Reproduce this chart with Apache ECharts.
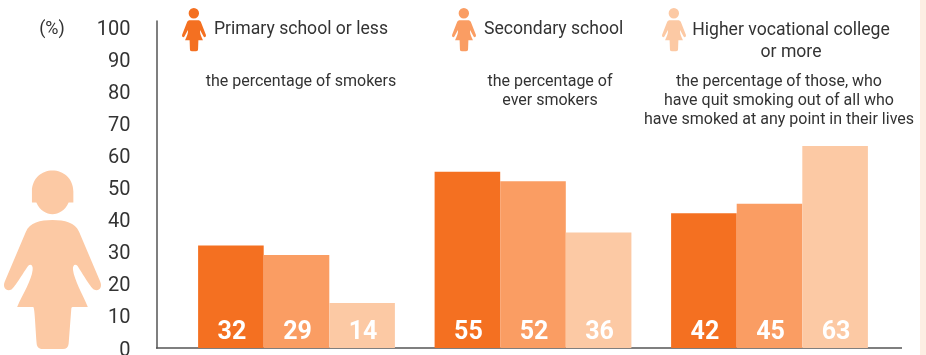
<!DOCTYPE html>
<html><head><meta charset="utf-8">
<style>html,body{margin:0;padding:0;background:#fff}#c{width:926px;height:355px}</style>
<script src="https://cdn.jsdelivr.net/npm/echarts@6/dist/echarts.min.js"></script>
</head><body><div id="c"></div>
<script>
const categories = ['the percentage of smokers', 'the percentage of ever smokers', 'the percentage of those, who have quit smoking'];
const primary = [32, 55, 42];
const secondary = [29, 52, 45];
const higher = [14, 36, 63];
const yTicks = [0, 10, 20, 30, 40, 50, 60, 70, 80, 90, 100];
const names = ['Primary school or less', 'Secondary school', 'Higher vocational college or more'];
const colors = ['#F47021', '#FA9D63', '#FCC9A4'];
const FONT = 'Roboto,"Liberation Sans",sans-serif';
const TXT = '#333333';
const smallIcon = 'path://M54 44 A16 16 0 1 1 86 44 A16 16 0 1 1 54 44 Z M58 66 L82 66 C87 66 90 68 92 72 L107 110 C109 117 103 120 100 116 L89 96 C88 104 92 116 98 127 L84 127 L83 155 C83 160 80 161 77 161 L64 161 C60 161 58 160 58 155 L57 127 L43 127 C49 116 53 104 52 96 L41 116 C38 120 32 117 34 110 L49 72 C51 68 54 66 58 66 Z';
const bigIcon = 'M96 600 L96 575 C96 535 125 512 157 512 C189 512 219 535 219 575 L219 608 L205 608 C195 632 175 643 157 643 C139 643 119 632 109 608 L96 608 Z M157 660 C120 660 90 668 78 695 L15 845 C8 862 20 875 35 868 C45 862 75 810 85 797 C92 790 100 795 98 810 C95 840 70 880 52 920 L100 920 C104 925 105 960 110 1030 C111 1040 118 1046 128 1046 L188 1046 C198 1046 204 1040 205 1030 L213 925 C213 920 216 920 220 920 L262 920 C245 880 222 840 218 810 C216 795 224 790 231 797 C240 810 270 862 280 868 C295 875 306 862 299 845 L236 695 C224 668 194 660 157 660 Z';

function legendOf(i, left, extra) {
  return Object.assign({
    show: true, left: left, top: 8, orient: 'horizontal', padding: 0,
    data: [{ name: names[i], icon: smallIcon }],
    itemWidth: 24, itemHeight: 46, itemGap: 0, selectedMode: false,
    textStyle: { fontFamily: FONT, fontSize: 17.6, color: TXT, padding: [0, 0, 0, 3] }
  }, extra || {});
}
function series(i, vals) {
  return {
    name: names[i], type: 'bar', data: vals, barWidth: 65.6, barGap: 0,
    itemStyle: { color: colors[i] }, silent: true,
    label: { show: true, position: 'insideBottom', distance: 3, offset: [1, 0], color: '#fff',
      fontFamily: FONT, fontWeight: 'bold', fontSize: 25 }
  };
}
function note(cx, y, text) {
  return { type: 'text', silent: true, x: cx, y: y,
    style: { text: text, fontFamily: FONT, fontSize: 16, lineHeight: 19, fill: TXT, align: 'center', verticalAlign: 'top' } };
}
const chart = echarts.init(document.getElementById('c'), null, { renderer: 'canvas' });
chart.setOption({
  animation: false,
  backgroundColor: '#fff',
  grid: { left: 178.25, right: 38.25, top: 21, bottom: 7, containLabel: false, outerBoundsMode: 'none' },
  legend: [
    legendOf(0, 182),
    legendOf(1, 452),
    legendOf(2, 662, {
      formatter: () => '{a|Higher vocational college}\n{a|or more}',
      textStyle: { fontFamily: FONT, color: TXT, padding: [23, 0, 0, 0], rich: { a: { width: 200, align: 'center', fontFamily: FONT, fontSize: 17.6, lineHeight: 22, color: TXT } } }
    })
  ],
  xAxis: { type: 'category', data: categories, axisLine: { show: false }, axisTick: { show: false }, axisLabel: { show: false } },
  yAxis: {
    type: 'value', min: 0, max: 102, interval: 10, offset: 21.75,
    axisLine: { show: true, lineStyle: { color: '#555', width: 1.5 } },
    axisTick: { show: false }, splitLine: { show: false },
    axisLabel: {
      margin: 26, color: TXT, fontFamily: FONT, fontSize: 20, showMaxLabel: false, verticalAlign: 'top', lineHeight: 5,
      formatter: v => yTicks.includes(v) ? String(v) : ''
    }
  },
  series: [series(0, primary), series(1, secondary), series(2, higher), {
    type: 'custom', coordinateSystem: 'none', silent: true, data: [[0]],
    renderItem: () => ({ type: 'path', shape: { pathData: bigIcon, layout: 'cover', x: 4, y: 170.5, width: 97, height: 178.5 }, style: { fill: colors[2] } })
  }],
  graphic: [
    { type: 'rect', silent: true, shape: { x: 920, y: 0, width: 6, height: 355 }, style: { fill: '#FDEEE3' } },
    { type: 'line', silent: true, shape: { x1: 156, y1: 348, x2: 902, y2: 348 }, style: { stroke: '#555', lineWidth: 1.5 } },
    { type: 'text', silent: true, x: 52, y: 29.5, style: { text: '(%)', fontFamily: FONT, fontSize: 18, fill: TXT, align: 'center', verticalAlign: 'middle' } },
    note(301, 72, 'the percentage of smokers'),
    note(550, 72, 'the percentage of\never smokers'),
    note(779, 72, 'the percentage of those, who\nhave quit smoking out of all who\nhave smoked at any point in their lives')
  ]
});
</script></body></html>
